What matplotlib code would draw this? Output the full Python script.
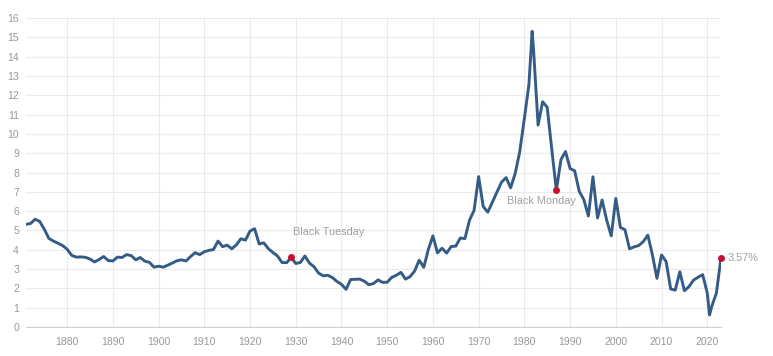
import numpy as np
import matplotlib
matplotlib.use("Agg")
import matplotlib.pyplot as plt

plt.rcParams['font.family'] = ['Liberation Sans', 'DejaVu Sans']

# annual 10 year treasury yield (%), 1871-2023
years = list(range(1871, 2024))
rates = [
    5.32, 5.36, 5.58, 5.47, 5.07, 4.59, 4.45, 4.34, 4.22,              # 1871-1879
    4.03, 3.71, 3.62, 3.63, 3.61, 3.52, 3.37, 3.50, 3.65, 3.44,        # 1880s
    3.42, 3.62, 3.60, 3.75, 3.70, 3.48, 3.60, 3.41, 3.35, 3.10,        # 1890s
    3.15, 3.10, 3.20, 3.31, 3.43, 3.48, 3.42, 3.65, 3.85, 3.75,        # 1900s
    3.90, 3.97, 4.01, 4.45, 4.16, 4.24, 4.05, 4.25, 4.57, 4.50,        # 1910s
    4.97, 5.09, 4.30, 4.36, 4.06, 3.86, 3.68, 3.34, 3.33, 3.60,        # 1920s
    3.29, 3.34, 3.68, 3.31, 3.12, 2.79, 2.65, 2.68, 2.56, 2.36,        # 1930s
    2.21, 1.95, 2.46, 2.47, 2.48, 2.37, 2.19, 2.25, 2.44, 2.31,        # 1940s
    2.32, 2.57, 2.68, 2.83, 2.48, 2.61, 2.90, 3.46, 3.09, 4.02,        # 1950s
    4.72, 3.84, 4.08, 3.83, 4.17, 4.19, 4.61, 4.58, 5.53, 6.04,        # 1960s
    7.79, 6.24, 5.95, 6.46, 6.99, 7.50, 7.74, 7.21, 7.96, 9.10,        # 1970s
    10.80, 12.57, 14.40, 10.46, 11.67, 11.38, 9.19, 7.08, 8.67, 9.09,  # 1980s
    8.21, 8.09, 7.03, 6.60, 5.75, 7.78, 5.65, 6.58, 5.54, 4.72,        # 1990s
    6.66, 5.16, 5.04, 4.05, 4.15, 4.22, 4.42, 4.76, 3.74, 2.52,        # 2000s
    3.73, 3.39, 1.97, 1.91, 2.86, 1.88, 2.09, 2.43, 2.58, 2.71,        # 2010s
    1.76, 1.08, 1.76, 3.57,                                            # 2020s
]

# record high and record low readings shown between the annual points
extra_years = [1981.7, 2020.5]
extra_rates = [15.32, 0.62]

events = ["Black Tuesday", "Black Monday"]
event_years = [1929, 1987]

x = np.array(years + extra_years, dtype=float)
y = np.array(rates + extra_rates)
order = np.argsort(x)
x, y = x[order], y[order]

fig = plt.figure(figsize=(7.73, 3.56), dpi=100)
ax = fig.add_axes([0.0336, 0.0815, 0.8991, 0.8675])

ax.plot(x, y, color='#355c87', lw=2.1, solid_joinstyle='round', zorder=3)

ax.set_xlim(1871, 2023)
ax.set_ylim(0, 16)
ax.set_yticks(range(0, 17))
ax.set_xticks(range(1880, 2021, 10))

ax.grid(True, color='#ebebeb', lw=0.8, zorder=0)
for s in ['top', 'right', 'left']:
    ax.spines[s].set_visible(False)
ax.spines['bottom'].set_color('#cfcfcf')
ax.spines['bottom'].set_linewidth(0.8)
ax.tick_params(length=0, labelsize=7.6, colors='#999999')
ax.tick_params(axis='y', pad=5)
ax.tick_params(axis='x', pad=7)

dot_color = '#c8102e'
txt_color = '#a0a0a0'

# event markers
for name, yr in zip(events, event_years):
    val = rates[years.index(yr)]
    ax.plot(yr, val, 'o', color=dot_color, ms=4, zorder=4)
    if name == "Black Tuesday":
        ax.annotate(name, (yr, val), xytext=(1.5, 18), textcoords='offset points',
                    ha='left', va='center', fontsize=7.8, color=txt_color)
    else:
        ax.annotate(name, (yr, val), xytext=(-11, -8), textcoords='offset points',
                    ha='center', va='center', fontsize=7.8, color=txt_color)

# latest value
ax.plot(years[-1], rates[-1], 'o', color=dot_color, ms=4, zorder=4, clip_on=False)
ax.annotate(f"{rates[-1]:.2f}%", (years[-1], rates[-1]), xytext=(5, 0),
            textcoords='offset points', ha='left', va='center',
            fontsize=7.8, color=txt_color, annotation_clip=False)

fig.savefig('out.png', dpi=100)
